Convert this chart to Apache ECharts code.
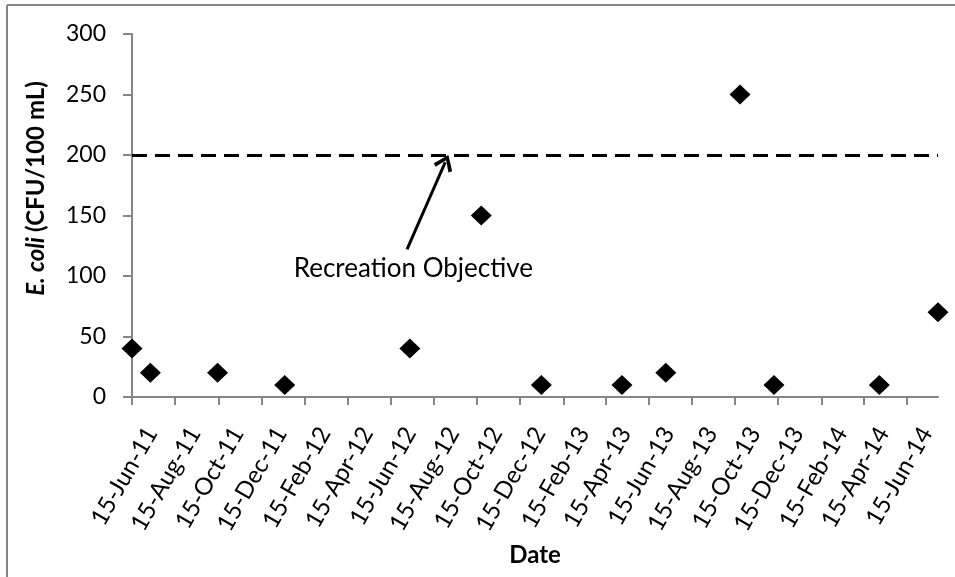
<!DOCTYPE html>
<html>
<head>
<meta charset="utf-8">
<title>E. coli</title>
<script src="https://cdn.jsdelivr.net/npm/echarts@6/dist/echarts.min.js"></script>
</head>
<body style="margin:0;padding:0;background:#fff;">
<div id="main" style="width:955px;height:577px;"></div>
<script>
// sample dates and E. coli counts
var sampleDates = ['2011-06-15', '2011-07-11', '2011-10-14', '2012-01-17', '2012-07-12', '2012-10-21',
    '2013-01-14', '2013-05-08', '2013-07-09', '2013-10-22', '2013-12-09', '2014-05-07', '2014-07-29'];
var ecoliValues = [40, 20, 20, 10, 40, 150, 10, 10, 20, 250, 10, 10, 70];

var tickLabels = ['15-Jun-11', '15-Aug-11', '15-Oct-11', '15-Dec-11', '15-Feb-12', '15-Apr-12',
    '15-Jun-12', '15-Aug-12', '15-Oct-12', '15-Dec-12', '15-Feb-13', '15-Apr-13', '15-Jun-13',
    '15-Aug-13', '15-Oct-13', '15-Dec-13', '15-Feb-14', '15-Apr-14', '15-Jun-14'];
var xMin = '2011-06-15';
var xMax = '2014-07-29';

var objective = 200;
var objectiveLabel = 'Recreation Objective';
// annotation anchors in data units
var arrowFrom = ['2012-07-08', 122];
var arrowTo = ['2012-08-31', 194];
var labelAt = ['2012-07-17', 106];

function day(s) {
    var p = s.split('-');
    return Date.UTC(+p[0], +p[1] - 1, +p[2]);
}

var months = {Jan:0, Feb:1, Mar:2, Apr:3, May:4, Jun:5, Jul:6, Aug:7, Sep:8, Oct:9, Nov:10, Dec:11};
var tickValues = [];
var tickText = {};
tickLabels.forEach(function (s) {
    var p = s.split('-');
    var t = Date.UTC(2000 + (+p[2]), months[p[1]], +p[0]);
    tickValues.push(t);
    tickText[t] = s;
});

var points = sampleDates.map(function (d, i) { return [day(d), ecoliValues[i]]; });

var font = 'Lato';
var axisGray = '#868686';

var myChart = echarts.init(document.getElementById('main'));

var option = {
    backgroundColor: '#fff',
    animation: false,
    grid: {left: 132, right: 17, top: 34, bottom: 180},
    graphic: [
        {type: 'line', shape: {x1: 7, y1: 5, x2: 7, y2: 577}, style: {stroke: axisGray, lineWidth: 2}},
        {type: 'line', shape: {x1: 7, y1: 5, x2: 955, y2: 5}, style: {stroke: axisGray, lineWidth: 2}}
    ],
    xAxis: {
        type: 'value',
        min: day(xMin),
        max: day(xMax),
        name: 'Date',
        nameLocation: 'middle',
        nameGap: 146,
        nameTextStyle: {fontFamily: font, fontWeight: 'bold', fontSize: 24, color: '#000'},
        axisLine: {lineStyle: {color: axisGray, width: 2}},
        axisTick: {show: true, length: 8, lineStyle: {color: axisGray, width: 2}, customValues: tickValues},
        splitLine: {show: false},
        axisLabel: {
            customValues: tickValues,
            rotate: 60,
            margin: 0,
            align: 'right',
            verticalAlign: 'top',
            padding: [21, 18, 0, 0],
            fontFamily: font,
            fontSize: 24,
            color: '#000',
            formatter: function (v) { return tickText[v] || ''; }
        }
    },
    yAxis: {
        type: 'value',
        min: 0,
        max: 300,
        interval: 50,
        name: '{i|E. coli }{b|(CFU/100 mL)}',
        nameLocation: 'middle',
        nameGap: 84,
        nameTextStyle: {
            padding: [0, 0, 0, 54],
            rich: {
                i: {fontFamily: font, fontWeight: 'bold', fontStyle: 'italic', fontSize: 24, color: '#000'},
                b: {fontFamily: font, fontWeight: 'bold', fontSize: 24, color: '#000'}
            }
        },
        axisLine: {show: true, lineStyle: {color: axisGray, width: 2}},
        axisTick: {show: true, length: 9, lineStyle: {color: axisGray, width: 2}},
        splitLine: {show: false},
        axisLabel: {margin: 26, fontFamily: font, fontSize: 23, color: '#000'}
    },
    series: [{
        type: 'scatter',
        data: points,
        symbol: 'diamond',
        symbolSize: [21, 20],
        itemStyle: {color: '#000', opacity: 1},
        clip: false,
        markLine: {
            silent: true,
            symbol: ['none', 'none'],
            label: {show: false},
            data: [
                {yAxis: objective, lineStyle: {color: '#000', width: 3, type: [15, 8]}},
                [
                    {coord: [day(arrowFrom[0]), arrowFrom[1]], symbol: 'none', lineStyle: {color: '#000', width: 3, type: 'solid'}},
                    {coord: [day(arrowTo[0]), arrowTo[1]], symbol: 'path://M0,0 L10,13 L7,15.5 L0,5.5 L-7,15.5 L-10,13 Z', symbolSize: [20, 16],
                        lineStyle: {color: '#000', width: 3, type: 'solid'}}
                ]
            ]
        },
        markPoint: {
            silent: true,
            symbol: 'circle',
            symbolSize: 1,
            itemStyle: {color: 'rgba(0,0,0,0)'},
            label: {show: true, position: 'inside', formatter: objectiveLabel, fontFamily: font, fontSize: 26, color: '#000'},
            data: [{coord: [day(labelAt[0]), labelAt[1]]}]
        }
    }]
};

myChart.setOption(option);
</script>
</body>
</html>
